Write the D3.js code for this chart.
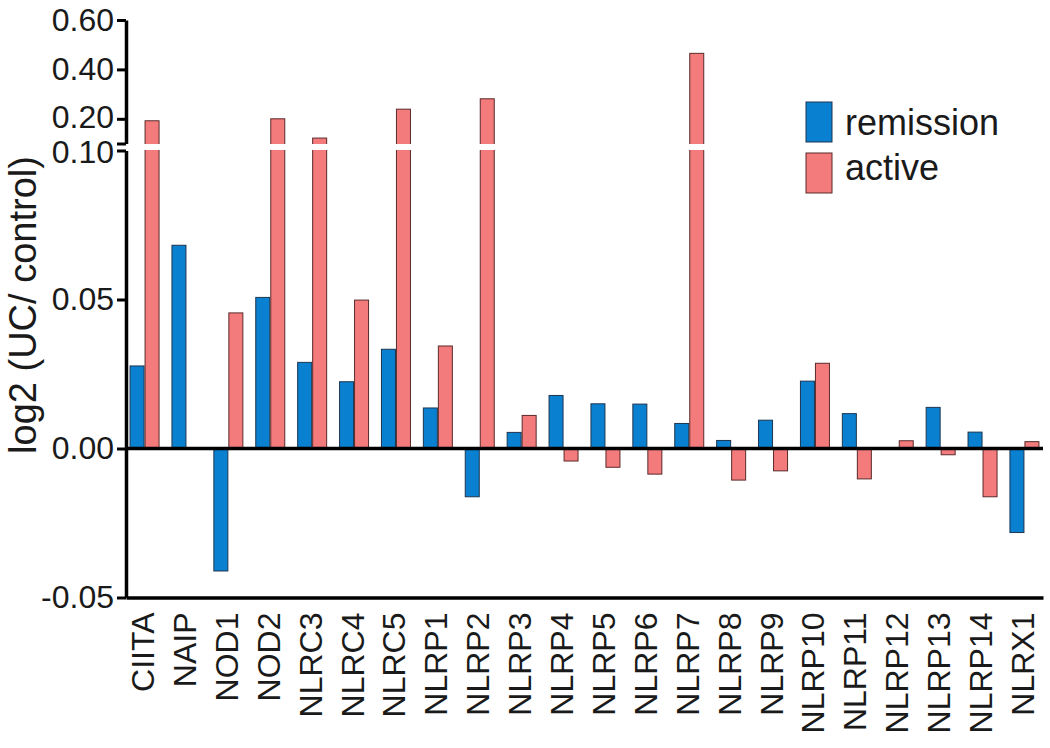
<!DOCTYPE html>
<html>
<head>
<meta charset="utf-8">
<script src="https://cdn.jsdelivr.net/npm/d3@7"></script>
<style>
  html, body { margin: 0; padding: 0; background: #fff; }
  svg { display: block; font-family: "Liberation Sans", Arial, sans-serif; }
</style>
</head>
<body>
<svg id="chart" width="1050" height="748"></svg>
<script>
const categories = ["CIITA","NAIP","NOD1","NOD2","NLRC3","NLRC4","NLRC5","NLRP1","NLRP2","NLRP3","NLRP4","NLRP5","NLRP6","NLRP7","NLRP8","NLRP9","NLRP10","NLRP11","NLRP12","NLRP13","NLRP14","NLRX1"];
const remission = [0.0277,0.0682,-0.0411,0.0507,0.0289,0.0224,0.0333,0.0136,-0.0162,0.0054,0.0178,0.0150,0.0149,0.0084,0.0027,0.0095,0.0226,0.0117,0.0003,0.0138,0.0055,-0.0282];
const active    = [0.192,0.0,0.0455,0.200,0.122,0.0498,0.239,0.0344,0.281,0.0111,-0.0042,-0.0063,-0.0086,0.465,-0.0106,-0.0075,0.0286,-0.0102,0.0026,-0.0021,-0.0162,0.0023];
const seriesNames = ["remission","active"];
const seriesColors = ["#0a80d0","#f47b7b"];
const lowerTicks = [-0.05, 0.00, 0.05, 0.10];
const upperTicks = [0.10, 0.20, 0.40, 0.60];
const breakValue = 0.10;

const svg = d3.select("#chart");

const x = d3.scaleBand().domain(categories).range([126, 1043]).paddingInner(0.284).paddingOuter(0.085);
const xs = d3.scaleBand().domain(seriesNames).range([0, x.bandwidth()]);
const color = d3.scaleOrdinal().domain(seriesNames).range(seriesColors);

const yLow = d3.scaleLinear().domain([-0.05, breakValue]).range([597.5, 150.5]);
const yUp = d3.scaleLinear().domain([breakValue, 0.60]).range([143.5, 20]);

function yTop(v) { return v > breakValue ? yUp(v) : yLow(Math.max(v, 0)); }
function yBot(v) { return yLow(Math.min(v, 0)); }

const rows = [];
categories.forEach((c, i) => {
  rows.push({cat: c, s: "remission", v: remission[i]});
  rows.push({cat: c, s: "active", v: active[i]});
});

const bars = svg.append("g");
bars.selectAll("rect").data(rows.filter(d => d.v !== 0)).join("rect")
  .attr("x", d => x(d.cat) + xs(d.s) + 0.5)
  .attr("y", d => yTop(d.v))
  .attr("width", xs.bandwidth() - 1)
  .attr("height", d => Math.max(1, yBot(d.v) - yTop(d.v)))
  .attr("fill", d => color(d.s))
  .attr("stroke", d => d.s === "remission" ? "#1d3550" : "#5a2a2a")
  .attr("stroke-width", 1);

// break gaps over tall bars
bars.selectAll("rect.gap").data(rows.filter(d => d.v > breakValue)).join("rect")
  .attr("class", "gap")
  .attr("x", d => x(d.cat) + xs(d.s) - 1)
  .attr("y", yUp(breakValue) + 0.5)
  .attr("width", xs.bandwidth() + 2)
  .attr("height", yLow(breakValue) - yUp(breakValue) - 1)
  .attr("fill", "#fff");

// zero line
svg.append("line")
  .attr("x1", 126).attr("x2", 1043)
  .attr("y1", yLow(0)).attr("y2", yLow(0))
  .attr("stroke", "#000").attr("stroke-width", 3.5);

const fmt = d => d3.format(".2f")(d).replace("\u2212", "-");

const axLow = svg.append("g").attr("transform", "translate(126,0)")
  .call(d3.axisLeft(yLow).tickValues(lowerTicks).tickFormat(fmt).tickSize(9).tickSizeOuter(0).tickPadding(3));
const axUp = svg.append("g").attr("transform", "translate(126,0)")
  .call(d3.axisLeft(yUp).tickValues(upperTicks).tickFormat(d => d === breakValue ? "" : fmt(d)).tickSize(9).tickSizeOuter(0).tickPadding(3));

[axLow, axUp].forEach(ax => {
  ax.select(".domain").attr("stroke", "#000").attr("stroke-width", 3.5);
  ax.selectAll(".tick line").attr("stroke", "#000").attr("stroke-width", 3);
  ax.selectAll(".tick text").attr("fill", "#1a1a1a").style("font-size", "32px");
});
// nudge the two labels next to the break apart slightly
axLow.selectAll(".tick text").filter(d => d === breakValue).attr("y", 2);
axUp.selectAll(".tick text").filter(d => d === 0.20).attr("y", -2);

const axX = svg.append("g").attr("transform", `translate(0,${yLow(-0.05)})`)
  .call(d3.axisBottom(x).tickSize(0).tickSizeOuter(0).tickPadding(0));
axX.select(".domain").attr("stroke", "#000").attr("stroke-width", 3.5);
axX.selectAll(".tick text")
  .attr("fill", "#1a1a1a")
  .style("font-size", "32px")
  .attr("text-anchor", "end")
  .attr("transform", "translate(-2,15) rotate(-90)")
  .attr("x", 0).attr("y", 0).attr("dy", "0.36em");

// y label
svg.append("text")
  .attr("transform", "translate(36,305) rotate(-90)")
  .attr("text-anchor", "middle")
  .attr("fill", "#1a1a1a")
  .style("font-size", "38px")
  .text("log2 (UC/ control)");

// legend
const legend = svg.append("g");
seriesNames.forEach((s, i) => {
  legend.append("rect")
    .attr("x", 806).attr("y", 102 + i * 51)
    .attr("width", 26).attr("height", 40)
    .attr("fill", color(s))
    .attr("stroke", i === 0 ? "#1d3550" : "#5a2a2a").attr("stroke-width", 1);
  legend.append("text")
    .attr("x", 845).attr("y", 135 + i * 45)
    .attr("fill", "#1a1a1a")
    .style("font-size", "36px")
    .text(s);
});
</script>
</body>
</html>
